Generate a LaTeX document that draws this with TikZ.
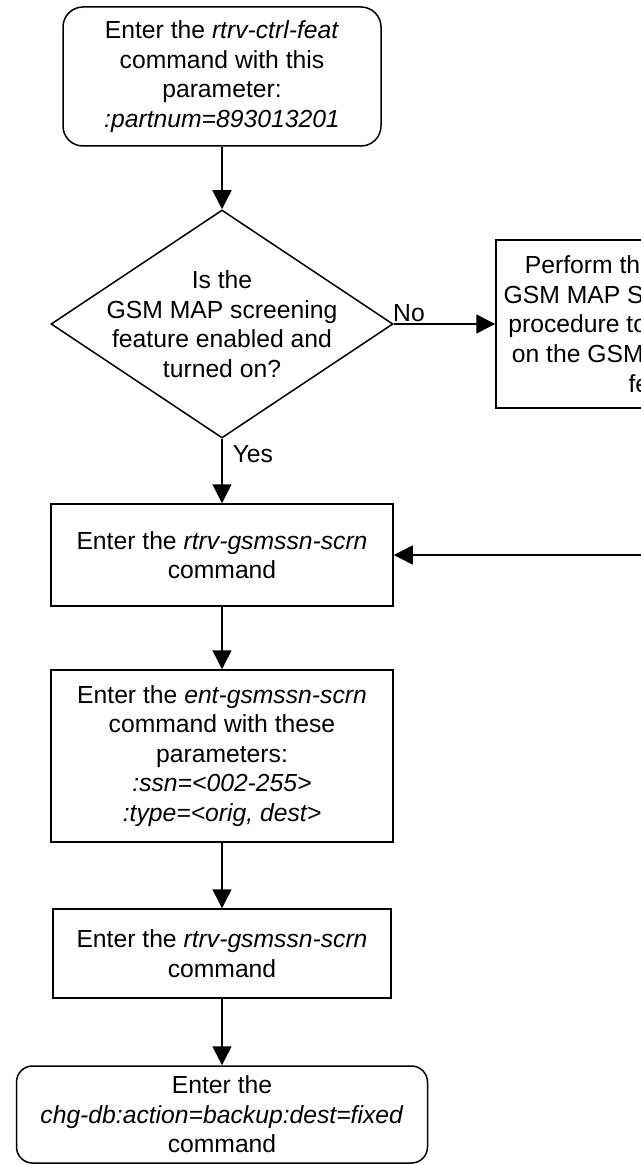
\documentclass[tikz,border=0pt]{standalone}
\usepackage{fontspec}
\setmainfont{Liberation Sans}
\usetikzlibrary{arrows.meta,positioning,shapes.geometric}

\begin{document}
\begin{tikzpicture}[
  x=0.5pt,y=-0.5pt,
  line width=0.75pt,
  >={Triangle[length=9.5pt,width=9.5pt]},
  every node/.style={font=\fontsize{12.35pt}{14.8pt}\selectfont},
  stepbox/.style={draw,line width=0.75pt,minimum width=171pt,align=center,inner sep=2pt},
  termbox/.style={stepbox,rounded corners=10pt},
  askbox/.style={diamond,draw,line width=0.75pt,minimum width=171pt,
                 minimum height=114pt,inner sep=-15pt,align=center},
]
  \useasboundingbox (0,0) rectangle (641,1165);
  \clip (0,0) rectangle (641,1165);

  \node[termbox,minimum width=159pt,minimum height=69.5pt] (feat) at (222,76.5)
    {Enter the \textit{rtrv-ctrl-feat}\\command with this\\parameter:\\\textit{:partnum=893013201}};
  \node[askbox] (enabled) at (222,324)
    {Is the\\GSM MAP screening\\feature enabled and\\turned on?};
  \node[stepbox,minimum height=84pt] (activate) at (667,324)
    {Perform the Activating the\\GSM MAP Screening Feature\\procedure to enable and turn\\on the GSM MAP Screening\\feature};
  \node[stepbox,minimum height=51pt] (rtrv1) at (222,555)
    {Enter the \textit{rtrv-gsmssn-scrn}\\command};
  \node[stepbox,minimum height=86pt] (ent) at (222,756)
    {Enter the \textit{ent-gsmssn-scrn}\\command with these\\parameters:\\\textit{:ssn=<002-255>}\\\textit{:type=<orig, dest>}};
  \node[stepbox,minimum width=169pt,minimum height=44.5pt] (rtrv2) at (222,953.5)
    {Enter the \textit{rtrv-gsmssn-scrn}\\command};
  \node[termbox,rounded corners=8pt,minimum width=205.5pt,minimum height=48.5pt] (backup) at (222,1114.5)
    {Enter the\\\textit{chg-db:action=backup:dest=fixed}\\command};

  \tikzset{lb/.style={inner sep=1pt}}

  \draw[->] (feat) -- (enabled);
  \draw[->] (enabled) -- node[lb,above,pos=0.15]{No} (activate);
  \draw[->] (enabled) -- node[lb,right=4pt,pos=0.24]{Yes} (rtrv1);
  \draw[->] (activate.south) |- (rtrv1.east);
  \draw[->] (rtrv1) -- (ent);
  \draw[->] (ent) -- (rtrv2);
  \draw[->] (rtrv2) -- (backup);
\end{tikzpicture}
\end{document}
